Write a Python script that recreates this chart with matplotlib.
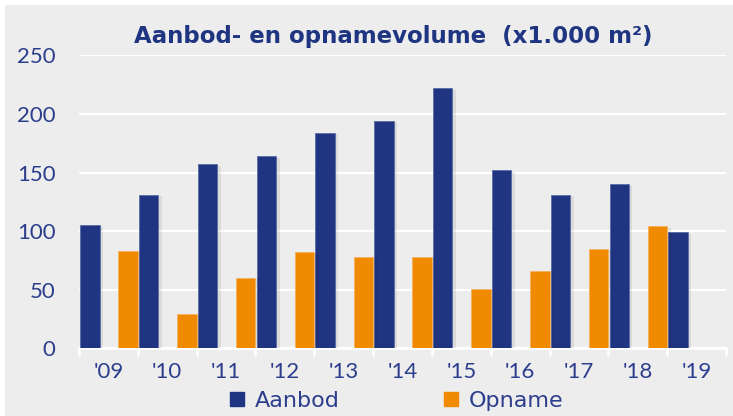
import matplotlib
matplotlib.use("Agg")
import matplotlib.pyplot as plt
import numpy as np
from matplotlib.lines import Line2D
from matplotlib.patches import Rectangle
import matplotlib.patheffects as pe

years = ["'09", "'10", "'11", "'12", "'13", "'14", "'15", "'16", "'17", "'18", "'19"]
aanbod = [105, 131, 157, 164, 184, 194, 222, 152, 131, 140, 99]
opname = [83, 29, 60, 82, 78, 78, 51, 66, 85, 104, np.nan]
yticks = [0, 50, 100, 150, 200, 250]

navy = "#1F3581"
orange = "#F08A00"
bg = "#EDEDED"
txt = "#2B3D8C"

plt.rcParams['font.family'] = ['Lato', 'DejaVu Sans']

fig = plt.figure(figsize=(7.33, 4.16), dpi=100)
fig.patch.set_facecolor("white")
fig.add_artist(Rectangle((5/733, 0), 1, 1 - 5/416, transform=fig.transFigure,
                         facecolor=bg, edgecolor="none", zorder=-10))

ax = fig.add_axes([79/733, 67.7/416, (726-79)/733, (348.3-55.5)/416])
ax.set_facecolor("none")
x = np.arange(len(years))
w = 0.33
shadow = [pe.SimplePatchShadow(offset=(2.5, -1), shadow_rgbFace="#000000", alpha=0.08), pe.Normal()]
b1 = ax.bar(x - 0.315, aanbod, width=w, color=navy, edgecolor="#5A6BA8", linewidth=0.6, zorder=3)
b2 = ax.bar(x + 0.335, opname, width=w, color=orange, edgecolor="#F5B060", linewidth=0.6, zorder=3)
for b in list(b1) + list(b2):
    b.set_path_effects(shadow)

ax.set_xlim(-0.5, len(years) - 0.5)
ax.set_ylim(0, 250)
ax.set_yticks(yticks)
ax.yaxis.grid(True, color="white", linewidth=1.6, zorder=0)
ax.set_axisbelow(True)
for s in ["left", "right", "top"]:
    ax.spines[s].set_visible(False)
ax.spines["bottom"].set_color("white")
ax.spines["bottom"].set_linewidth(1.8)
ax.set_xticks(x)
ax.set_xticklabels(years)
ax.set_xticks(np.arange(len(years) + 1) - 0.5, minor=True)
ax.tick_params(axis="x", which="major", length=0, pad=10, labelsize=16, labelcolor=txt)
ax.tick_params(axis="x", which="minor", length=6, width=1.8, color="white")
ax.tick_params(axis="y", length=0, pad=17, labelsize=16, labelcolor=txt)

fig.text(393/733, 1 - 36/416, "Aanbod- en opnamevolume  (x1.000 m²)", ha="center", va="center",
         fontsize=16.5, fontweight="bold", color=navy, family="DejaVu Sans")

handles = [Line2D([], [], linestyle="none", marker="s", markersize=9.5, color=navy),
           Line2D([], [], linestyle="none", marker="s", markersize=9.5, color=orange)]
leg = fig.legend(handles, ["Aanbod", "Opname"], loc="center", bbox_to_anchor=(396/733, 1 - 401/416),
                 ncol=2, frameon=False, prop={"family": "DejaVu Sans", "size": 16},
                 handlelength=0.8, handletextpad=0.4, columnspacing=4.6, borderaxespad=0)
for t in leg.get_texts():
    t.set_color(txt)

fig.savefig("out.png", dpi=100, facecolor=fig.get_facecolor())
